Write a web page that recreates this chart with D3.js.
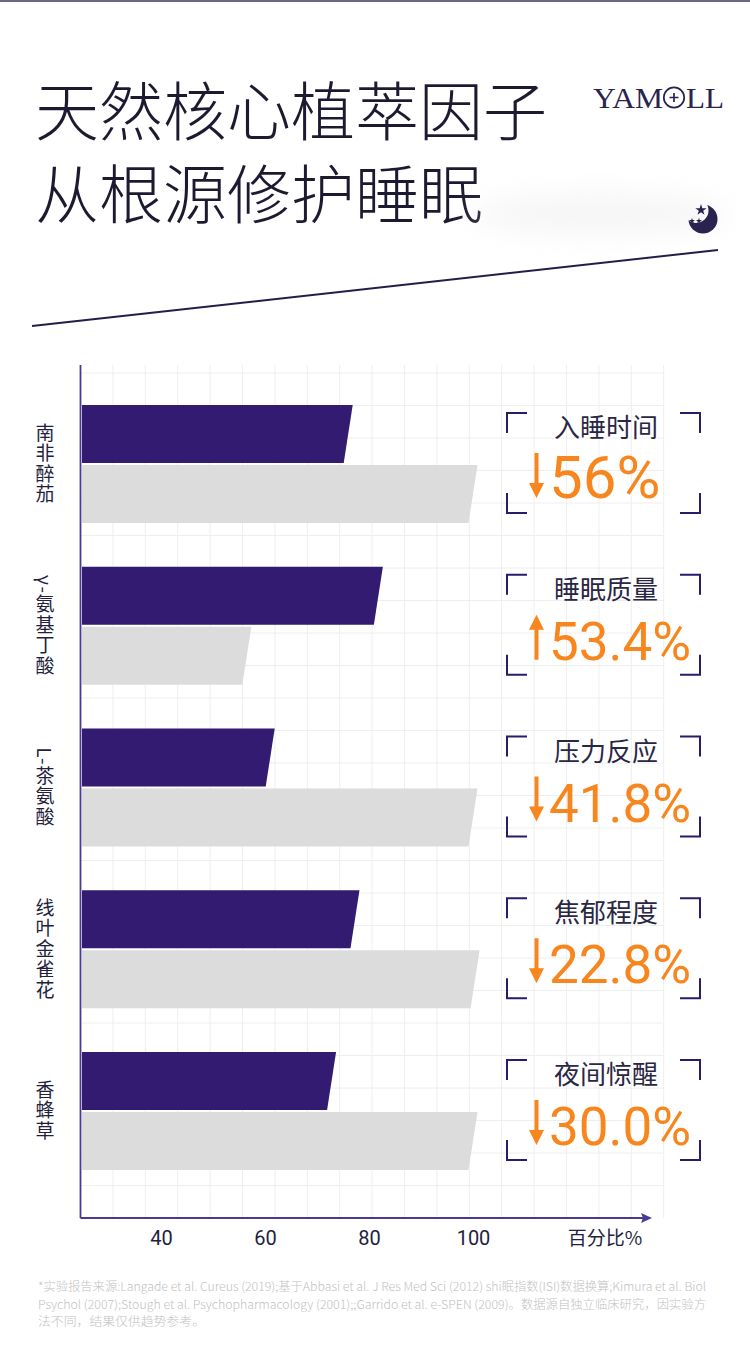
<!DOCTYPE html>
<html>
<head>
<meta charset="utf-8">
<script src="https://cdn.jsdelivr.net/npm/d3@7"></script>
<style>
  body { margin: 0; background: #fff; }
  svg { display: block; }
</style>
</head>
<body>
<div id="chart"></div>
<script>
"use strict";

// data
const categories = ["南非醉茄", "γ-氨基丁酸", "L-茶氨酸", "线叶金雀花", "香蜂草"];
const afterValues = [76, 81.8, 61, 77.3, 72.8];
const baseValues = [100, 56.5, 100, 100.4, 100];
const metricNames = ["入睡时间", "睡眠质量", "压力反应", "焦郁程度", "夜间惊醒"];
const metricValues = ["56%", "53.4%", "41.8%", "22.8%", "30.0%"];
const metricDirections = ["down", "up", "down", "down", "down"];
const xTicks = [40, 60, 80, 100];
const titleLines = ["天然核心植萃因子", "从根源修护睡眠"];
const footnoteLines = [
  "*实验报告来源:Langade et al. Cureus (2019);基于Abbasi et al. J Res Med Sci (2012)  shi眠指数(ISI)数据换算;Kimura et al. Biol",
  "Psychol (2007);Stough et al. Psychopharmacology (2001);;Garrido et al. e-SPEN (2009)。数据源自独立临床研究，因实验方",
  "法不同，结果仅供趋势参考。"
];

const W = 750, H = 1354;
const purple = "#321b70";
const grey = "#dcdcdc";
const orange = "#f7861e";
const ink = "#231f3d";
const cjk = "'Noto Sans CJK SC', 'Noto Sans', sans-serif";

const svg = d3.select("#chart")
  .append("svg")
  .attr("width", W)
  .attr("height", H)
  .attr("viewBox", `0 0 ${W} ${H}`);

const defs = svg.append("defs");
defs.append("filter").attr("id", "blur")
  .attr("x", "-50%").attr("y", "-100%").attr("width", "200%").attr("height", "300%")
  .append("feGaussianBlur").attr("stdDeviation", 14);

// top border
svg.append("rect")
  .attr("x", 0).attr("y", 0).attr("width", W).attr("height", 2)
  .attr("fill", "#6b6880");

// title
svg.append("g")
  .selectAll("text")
  .data(titleLines)
  .join("text")
  .attr("x", 35)
  .attr("y", (d, i) => 135 + i * 83)
  .style("font-family", cjk)
  .style("font-size", "64px")
  .style("font-weight", 300)
  .attr("fill", "#1c1a30")
  .text(d => d);

// logo
const logo = svg.append("g").attr("fill", "#2a2350");
logo.append("text")
  .attr("x", 593).attr("y", 108)
  .attr("textLength", 70).attr("lengthAdjust", "spacingAndGlyphs")
  .style("font-family", "'Liberation Serif', serif")
  .style("font-size", "30px")
  .text("YAM");
logo.append("circle")
  .attr("cx", 674).attr("cy", 97.5).attr("r", 10.2)
  .attr("fill", "none").attr("stroke", "#2a2350").attr("stroke-width", 1.7);
logo.append("path")
  .attr("d", "M674,93V102M669.5,97.5H678.5")
  .attr("stroke", "#2a2350").attr("stroke-width", 1.7);
logo.append("text")
  .attr("x", 686).attr("y", 108)
  .attr("textLength", 38).attr("lengthAdjust", "spacingAndGlyphs")
  .style("font-family", "'Liberation Serif', serif")
  .style("font-size", "30px")
  .text("LL");

// soft shadow near the divider
svg.append("ellipse")
  .attr("cx", 600).attr("cy", 214).attr("rx", 130).attr("ry", 20)
  .attr("fill", "#e4e4e4").attr("opacity", 0.35)
  .attr("filter", "url(#blur)");

// moon
const moonMask = defs.append("mask").attr("id", "moonMask");
moonMask.append("rect").attr("x", 680).attr("y", 195).attr("width", 50).attr("height", 50).attr("fill", "#fff");
moonMask.append("circle").attr("cx", 696).attr("cy", 210.5).attr("r", 12.5).attr("fill", "#000");
svg.append("circle")
  .attr("cx", 703).attr("cy", 219).attr("r", 14.5)
  .attr("fill", "#2a2350").attr("mask", "url(#moonMask)");
const stars = [[701, 210, 40], [692, 221, 12], [699, 221, 12]];
svg.append("g")
  .selectAll("path")
  .data(stars)
  .join("path")
  .attr("transform", d => `translate(${d[0]},${d[1]})`)
  .attr("d", d => d3.symbol(d3.symbolStar, d[2])())
  .attr("fill", "#2a2350");

// divider
svg.append("line")
  .attr("x1", 32).attr("y1", 326).attr("x2", 718).attr("y2", 250)
  .attr("stroke", "#231d4a").attr("stroke-width", 2);

// ---- chart ----
const axisX = 80.5, axisY = 1218, axisTop = 365, axisEnd = 652;

const x = d3.scaleLinear()
  .domain([24.8, 100])
  .range([82, 473]);

const y = d3.scaleBand()
  .domain(categories)
  .range([405, 1170])
  .paddingInner(0.2705)
  .paddingOuter(0);

const ySub = d3.scaleBand()
  .domain(["after", "base"])
  .range([0, y.bandwidth()])
  .paddingInner(0.034);

// grid
const grid = svg.append("g").attr("stroke", "#eeeeee").attr("stroke-width", 1);
grid.selectAll(".gv")
  .data(d3.range(1, 19))
  .join("line")
  .attr("x1", k => axisX + k * 32.4).attr("x2", k => axisX + k * 32.4)
  .attr("y1", axisTop).attr("y2", axisY);
grid.selectAll(".gh")
  .data(d3.range(1, 27))
  .join("line")
  .attr("x1", axisX).attr("x2", axisX + 18 * 32.4)
  .attr("y1", k => axisY - k * 32.5).attr("y2", k => axisY - k * 32.5);

// bars
const slant = 4.5;
const barPath = (v, top, h) => {
  const x0 = x.range()[0], x1 = x(v);
  return `M${x0},${top}L${x1 + slant},${top}L${x1 - slant},${top + h}L${x0},${top + h}Z`;
};

const rows = categories.map((c, i) => ({
  name: c,
  after: afterValues[i],
  base: baseValues[i],
  metric: metricNames[i],
  value: metricValues[i],
  dir: metricDirections[i]
}));

const row = svg.append("g")
  .selectAll("g")
  .data(rows)
  .join("g");

row.append("path")
  .attr("d", d => barPath(d.after, y(d.name) + ySub("after"), ySub.bandwidth()))
  .attr("fill", purple);
row.append("path")
  .attr("d", d => barPath(d.base, y(d.name) + ySub("base"), ySub.bandwidth()))
  .attr("fill", grey);

// category labels (vertical)
row.append("text")
  .attr("x", 45)
  .attr("y", d => y(d.name) + y.bandwidth() / 2)
  .attr("text-anchor", "middle")
  .style("writing-mode", "vertical-rl")
  .style("font-family", cjk)
  .style("font-size", "19px")
  .style("letter-spacing", "1.5px")
  .attr("fill", ink)
  .text(d => d.name);

// callouts
const boxL = 507, boxR = 700, arm = 20;
const callout = row.append("g")
  .attr("transform", d => `translate(0,${y(d.name) + y.bandwidth() / 2})`);

callout.append("path")
  .attr("d", () => {
    const t = -51, b = 49;
    return `M${boxL},${t + arm}V${t}H${boxL + arm}` +
      `M${boxR - arm},${t}H${boxR}V${t + arm}` +
      `M${boxL},${b - arm}V${b}H${boxL + arm}` +
      `M${boxR - arm},${b}H${boxR}V${b - arm}`;
  })
  .attr("fill", "none")
  .attr("stroke", "#2a1b6b")
  .attr("stroke-width", 2);

callout.append("text")
  .attr("x", 606)
  .attr("y", -27)
  .attr("text-anchor", "middle")
  .style("font-family", cjk)
  .style("font-size", "26px")
  .attr("fill", "#2a2744")
  .text(d => d.metric);

callout.append("text")
  .attr("x", 549)
  .attr("y", 34)
  .style("font-family", "Roboto, 'Liberation Sans', sans-serif")
  .style("font-size", d => d.value.includes(".") ? "53px" : "60px")
  .attr("fill", orange)
  .text(d => d.value);

callout.append("path")
  .attr("d", d => {
    const cx = 536.5, top = -11, bot = 34, head = 15, hw = 7.5, sw = 2;
    if (d.dir === "down") {
      return `M${cx - sw},${top}H${cx + sw}V${bot - head}H${cx + hw}L${cx},${bot}L${cx - hw},${bot - head}H${cx - sw}Z`;
    }
    return `M${cx - sw},${bot}H${cx + sw}V${top + head}H${cx + hw}L${cx},${top}L${cx - hw},${top + head}H${cx - sw}Z`;
  })
  .attr("fill", orange);

// axes
svg.append("line")
  .attr("x1", axisX).attr("x2", axisX)
  .attr("y1", axisTop).attr("y2", axisY)
  .attr("stroke", "#4a3a96").attr("stroke-width", 1.8);
svg.append("line")
  .attr("x1", axisX).attr("x2", axisEnd - 8)
  .attr("y1", axisY).attr("y2", axisY)
  .attr("stroke", "#4a3a96").attr("stroke-width", 1.8);
svg.append("path")
  .attr("d", `M${axisEnd},${axisY}L${axisEnd - 11},${axisY - 5}L${axisEnd - 9},${axisY}L${axisEnd - 11},${axisY + 5}Z`)
  .attr("fill", "#4a3a96");

const xAxis = d3.axisBottom(x)
  .tickValues(xTicks)
  .tickSize(0)
  .tickPadding(0);

const axisG = svg.append("g")
  .attr("transform", `translate(0,${axisY + 27})`)
  .call(xAxis);
axisG.select(".domain").remove();
axisG.selectAll("text")
  .attr("dy", 0)
  .attr("y", 0)
  .style("font-family", "Roboto, 'Noto Sans', sans-serif")
  .style("font-size", "20px")
  .attr("fill", "#221e40");

svg.append("text")
  .attr("x", 605).attr("y", axisY + 27)
  .attr("text-anchor", "middle")
  .style("font-family", cjk)
  .style("font-size", "19px")
  .attr("fill", "#221e40")
  .text("百分比%");

// footnote
svg.append("g")
  .selectAll("text")
  .data(footnoteLines)
  .join("text")
  .attr("x", 38)
  .attr("y", (d, i) => 1291 + i * 17.5)
  .attr("textLength", (d, i) => i < 2 ? 668 : 167)
  .attr("lengthAdjust", "spacingAndGlyphs")
  .style("font-family", cjk)
  .style("font-size", "12px")
  .style("font-weight", 300)
  .attr("fill", "#c2c2c2")
  .text(d => d);
</script>
</body>
</html>
